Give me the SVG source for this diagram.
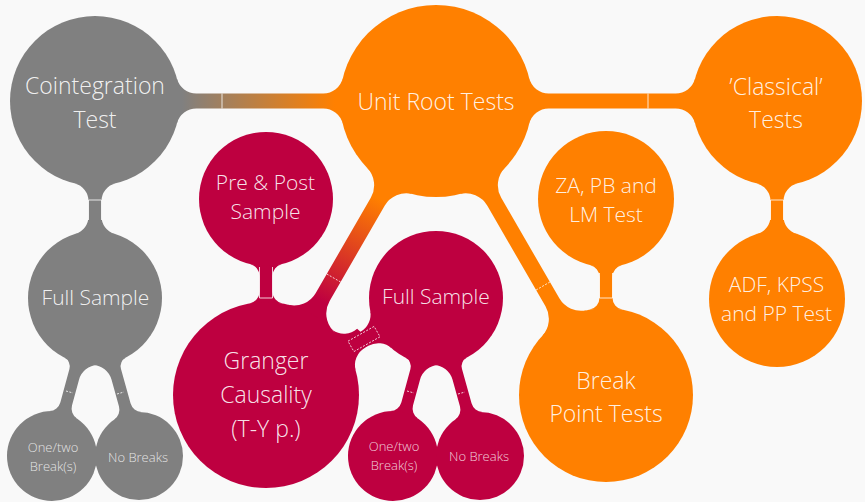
<svg xmlns="http://www.w3.org/2000/svg" width="865" height="502" viewBox="0 0 865 502">
<style>
.bg{fill:#f9f9f9}
.g{fill:#808080}
.o{fill:#ff8000}
.c{fill:#be0040}
.t{font-family:"Open Sans","Liberation Sans",sans-serif;font-weight:300;fill:#fff;fill-opacity:.9;text-anchor:middle}
.L{font-size:23px}
.M{font-size:21px}
.S{font-size:13px;fill-opacity:.8}
.seam{fill:none;stroke:#fff;stroke-width:1;stroke-opacity:.8}
.dash{stroke-dasharray:2 1.5}
</style>
<defs>
<linearGradient id="gCU" gradientUnits="userSpaceOnUse" x1="182" y1="0" x2="335" y2="0"><stop offset="0" stop-color="#808080"/><stop offset="1" stop-color="#ff8000"/></linearGradient>
<linearGradient id="gUG" gradientUnits="userSpaceOnUse" x1="372" y1="195" x2="318" y2="300"><stop offset="0" stop-color="#ff8000"/><stop offset="1" stop-color="#be0040"/></linearGradient>
</defs>
<rect class="bg" x="0" y="0" width="865" height="502"/>
<g id="connectors">
<path fill="url(#gCU)" d="M177.04,123.26 A20,20 0 0 1 196.34,108.5 L323.31,108.5 A20,20 0 0 1 342.74,123.76 L342.74,78.24 A20,20 0 0 1 323.31,93.5 L196.34,93.5 A20,20 0 0 1 177.04,78.74 Z"/>
<path class="o" d="M529.26,123.76 A20,20 0 0 1 548.69,108.5 L675.66,108.5 A20,20 0 0 1 694.96,123.26 L694.96,78.74 A20,20 0 0 1 675.66,93.5 L548.69,93.5 A20,20 0 0 1 529.26,78.24 Z"/>
<path class="g" d="M74.78,183.56 A18,18 0 0 1 88.5,201.04 L88.5,216.61 A18,18 0 0 1 75.69,233.85 L114.31,233.85 A18,18 0 0 1 101.5,216.61 L101.5,201.04 A18,18 0 0 1 115.22,183.56 Z"/>
<path class="o" d="M756.78,183.56 A18,18 0 0 1 770.5,201.04 L770.5,216.56 A18,18 0 0 1 757.63,233.82 L796.37,233.82 A18,18 0 0 1 783.5,216.56 L783.5,201.04 A18,18 0 0 1 797.22,183.56 Z"/>
<path class="c" d="M250.31,264.14 A12,12 0 0 1 259.5,275.8 L259.5,291.64 A12,12 0 0 1 249.61,303.45 L282.39,303.45 A12,12 0 0 1 272.5,291.64 L272.5,275.8 A12,12 0 0 1 281.69,264.14 Z"/>
<path class="o" d="M590.27,265.16 A12,12 0 0 1 599.5,276.83 L599.5,297.74 A12,12 0 0 1 589.74,309.53 L622.26,309.53 A12,12 0 0 1 612.5,297.74 L612.5,276.83 A12,12 0 0 1 621.73,265.16 Z"/>
<path fill="url(#gUG)" d="M367.09,167.85 A25,25 0 0 1 370.79,197.78 L315.78,292.92 A25,25 0 0 1 288.18,304.68 L333.21,330.72 A25,25 0 0 1 329.64,300.92 L384.65,205.78 A25,25 0 0 1 412.43,194.07 Z"/>
<path class="o" d="M459.57,194.07 A25,25 0 0 1 487.35,205.78 L545.49,306.34 A25,25 0 0 1 542.19,335.85 L586.57,310.19 A25,25 0 0 1 559.35,298.34 L501.21,197.78 A25,25 0 0 1 504.91,167.85 Z"/>
<path class="c" d="M355.67,370.36 A20,20 0 0 1 365.04,347.69 L368.42,345.77 A20,20 0 0 1 391.6,348.16 L370.22,310.71 A20,20 0 0 1 360.5,331.87 L357.12,328.79 A20,20 0 0 1 332.83,330.33 Z"/>
<path class="g" d="M64.35,357.59 A10,10 0 0 1 69.43,369.1 L60.41,402.24 A12,12 0 0 1 49.5,411.07 L76.92,418.54 A12,12 0 0 1 71.99,405.4 L79.01,379.69 A20,20 0 0 1 97.53,364.95 Z"/>
<path class="g" d="M92.86,364.97 A20,20 0 0 1 111.49,379.59 L118.99,406.52 A12,12 0 0 1 114.2,419.65 L141.44,412.06 A12,12 0 0 1 130.55,403.3 L120.99,368.95 A10,10 0 0 1 125.99,357.4 Z"/>
<path class="c" d="M405.35,357.59 A10,10 0 0 1 410.43,369.1 L401.41,402.24 A12,12 0 0 1 390.5,411.07 L417.92,418.54 A12,12 0 0 1 412.99,405.4 L420.01,379.69 A20,20 0 0 1 438.53,364.95 Z"/>
<path class="c" d="M433.86,364.97 A20,20 0 0 1 452.49,379.59 L459.99,406.52 A12,12 0 0 1 455.2,419.65 L482.44,412.06 A12,12 0 0 1 471.55,403.3 L461.99,368.95 A10,10 0 0 1 466.99,357.4 Z"/>
</g>
<g id="nodes">
<g id="cointegration"><circle class="g" cx="95" cy="101" r="85"/><text class="t L" x="95" y="94">Cointegration</text><text class="t L" x="95" y="128">Test</text></g>
<g id="unit-root"><circle class="o" cx="436" cy="101" r="96"/><text class="t L" x="436" y="110">Unit Root Tests</text></g>
<g id="classical"><circle class="o" cx="777" cy="101" r="85"/><text class="t L" x="776" y="95">’Classical’</text><text class="t L" x="776" y="128">Tests</text></g>
<g id="full-sample-gray"><circle class="g" cx="95" cy="298" r="67"/><text class="t M" x="95.5" y="305">Full Sample</text></g>
<g id="pre-post"><circle class="c" cx="266" cy="199" r="67"/><text class="t M" x="265.5" y="190">Pre &amp; Post</text><text class="t M" x="265.5" y="218.5">Sample</text></g>
<g id="za-pb-lm"><circle class="o" cx="606" cy="199" r="68"/><text class="t M" x="606" y="193">ZA, PB and</text><text class="t M" x="606" y="222">LM Test</text></g>
<g id="full-sample-red"><circle class="c" cx="436" cy="298" r="67"/><text class="t M" x="436" y="304">Full Sample</text></g>
<g id="adf"><circle class="o" cx="777" cy="299" r="68"/><text class="t M" x="776.5" y="292">ADF, KPSS</text><text class="t M" x="776.5" y="321">and PP Test</text></g>
<g id="granger"><circle class="c" cx="266" cy="395" r="93"/><text class="t L" x="266" y="369">Granger</text><text class="t L" x="266" y="403">Causality</text><text class="t L" x="266" y="437">(T-Y p.)</text></g>
<g id="break-point"><circle class="o" cx="606" cy="395" r="87"/><text class="t L" x="606" y="389">Break</text><text class="t L" x="606" y="422">Point Tests</text></g>
<g id="gray-breaks"><circle class="g" cx="52" cy="456" r="45"/><text class="t S" x="53" y="452">One/two</text><text class="t S" x="53" y="470.5">Break(s)</text></g>
<g id="gray-nobreaks"><circle class="g" cx="139" cy="456" r="44"/><text class="t S" x="138" y="461.5">No Breaks</text></g>
<g id="red-breaks"><circle class="c" cx="393" cy="456" r="45"/><text class="t S" x="394" y="451">One/two</text><text class="t S" x="394" y="469.5">Break(s)</text></g>
<g id="red-nobreaks"><circle class="c" cx="480" cy="456" r="44"/><text class="t S" x="479" y="461">No Breaks</text></g>
</g>
<g id="seams">
<path class="seam" d="M222,93.5 V108.5 M648,93.5 V108.5"/>
<path class="seam" d="M88.5,220 V200 H101.5 V220 M770.5,220 V200 H783.5 V220"/>
<path class="seam" d="M259.5,267 V298 H272.5 V267 M599.5,273 V298 H612.5 V273"/>
<path class="seam dash" d="M340.6,282 L326.8,274 M536.1,290 L549.9,282"/>
<path class="seam dash" d="M348,341.2 L374.1,326.4 L380,336.8 L353.9,351.6 Z"/>
<path class="seam dash" d="M66,391 L73,393 M117,394 L124,392 M407,391 L414,393 M458,394 L465,392"/>
</g>
</svg>
